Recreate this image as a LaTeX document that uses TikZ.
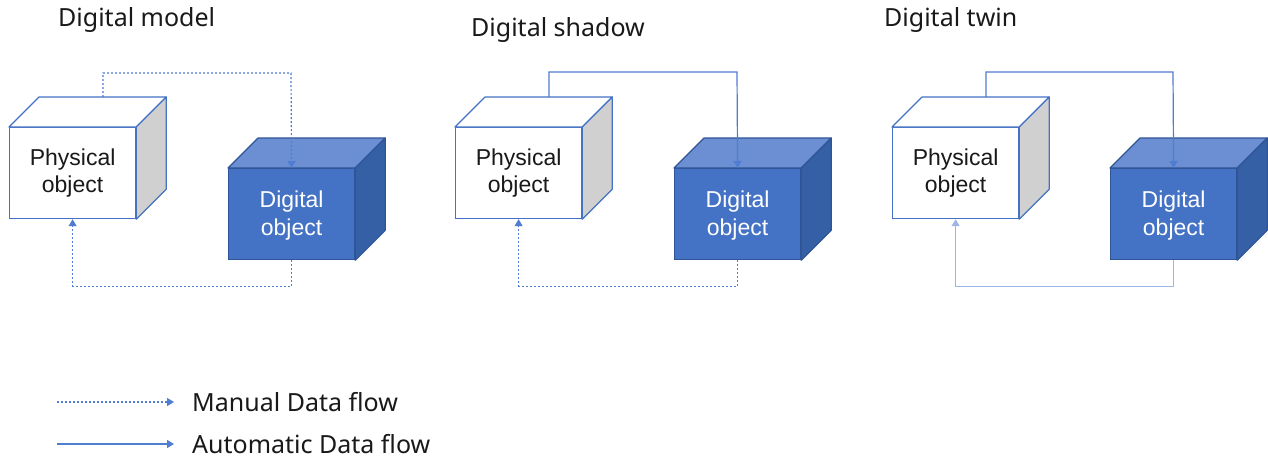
\documentclass[tikz,border=0pt]{standalone}
\usepackage{fontspec}
\setmainfont{Noto Sans}
\newfontfamily\boxfont{Liberation Sans}
\usetikzlibrary{arrows.meta,calc}
\definecolor{bmain}{HTML}{4472C4}
\definecolor{btop}{HTML}{6B8FD2}
\definecolor{bside}{HTML}{3560A6}
\definecolor{bedge}{HTML}{2F5597}
\definecolor{gside}{HTML}{D0D0D0}
\definecolor{flow}{HTML}{4F7DD2}
\definecolor{flowlight}{HTML}{9DB6E6}
\tikzset{
  x=1pt,y=-1pt,
  face/.style={minimum width=126pt,minimum height=91pt,inner sep=0pt,align=center,font=\boxfont\fontsize{23}{27.5}\selectfont},
  physface/.style={face,draw=bmain,line width=1.2pt,fill=white,text=black!90},
  digiface/.style={face,draw=bedge,line width=1.2pt,fill=bmain,text=white},
  physside/.style={draw=bmain,line width=1.2pt,fill=gside,line join=round},
  phystop/.style={draw=bmain,line width=1.2pt,fill=white,line join=round},
  digiside/.style={draw=bedge,line width=1.2pt,fill=bside,line join=round},
  digitop/.style={draw=bedge,line width=1.2pt,fill=btop,line join=round},
  title/.style={anchor=west,inner sep=0pt,font=\fontsize{25}{30}\selectfont,text=black!90},
  legtext/.style={anchor=west,inner sep=0pt,font=\fontsize{25}{30}\selectfont,text=black!90},
  tip/.style={-{Triangle[width=8pt,length=7pt]}},
  manual/.style={tip,draw=flow,line width=1.2pt,dash pattern=on 2pt off 2pt},
  auto/.style={tip,draw=flow,line width=1.2pt},
  autolight/.style={tip,draw=flowlight,line width=1.4pt},
}
\newcommand{\cubefaces}[3]{% node, top style, side style
  \draw[#2] (#1.north west) -- ++(30,-30) -- ($(#1.north east)+(30,-30)$) -- (#1.north east) -- cycle;
  \draw[#3] (#1.north east) -- ++(30,-30) -- ($(#1.south east)+(30,-30)$) -- (#1.south east) -- cycle;
}
\begin{document}
\begin{tikzpicture}
\useasboundingbox[fill=white] (0,0) rectangle (1268,459);

% titles
\node[title] (t1) at (58,20) {Digital model};
\node[title] (t2) at (471,30) {Digital shadow};
\node[title] (t3) at (884,20) {Digital twin};

% panel 1
\node[physface,anchor=north west] (p1) at (9,127) {Physical\\object};
\cubefaces{p1}{phystop}{physside}
\node[digiface,anchor=north west] (d1) at (228,168) {\strut Digital\\object};
\cubefaces{d1}{digitop}{digiside}
\coordinate (s1) at ($(p1.north west)+(94,-30)$);
\draw[manual] (s1) |- (291,73) -- (d1.north);
\draw[manual] (d1.south) -- ++(0,26) -| (p1.south);

% panel 2
\node[physface,anchor=north west] (p2) at (455,127) {Physical\\object};
\cubefaces{p2}{phystop}{physside}
\node[digiface,anchor=north west] (d2) at (674,168) {\strut Digital\\object};
\cubefaces{d2}{digitop}{digiside}
\coordinate (s2) at ($(p2.north west)+(94,-30)$);
\draw[auto] (s2) |- (737,72) -- (d2.north);
\draw[manual] (d2.south) -- ++(0,26) -| (p2.south);

% panel 3
\node[physface,anchor=north west] (p3) at (892,127) {Physical\\object};
\cubefaces{p3}{phystop}{physside}
\node[digiface,anchor=north west] (d3) at (1110,168) {\strut Digital\\object};
\cubefaces{d3}{digitop}{digiside}
\coordinate (s3) at ($(p3.north west)+(94,-30)$);
\draw[auto] (s3) |- (1173,72) -- (d3.north);
\draw[autolight] (d3.south) -- ++(0,26) -| (p3.south);

% legend
\coordinate (la) at (57,402);
\node[legtext] (l1) at (192,402) {Manual Data flow};
\draw[manual] (la) -- ($(l1.west)+(-18,0)$);
\coordinate (lb) at (57,444);
\node[legtext] (l2) at (192,444) {Automatic Data flow};
\draw[auto] (lb) -- ($(l2.west)+(-18,0)$);
\end{tikzpicture}
\end{document}
